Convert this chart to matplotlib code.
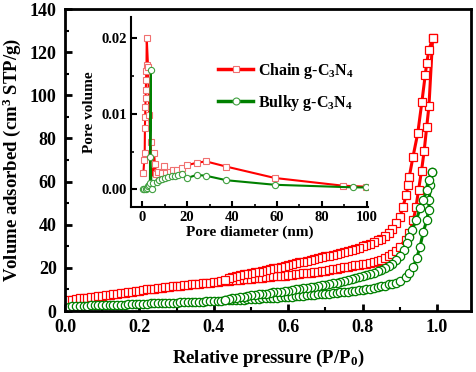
import matplotlib
matplotlib.use("Agg")
import matplotlib.pyplot as plt
from matplotlib.ticker import MultipleLocator

plt.rcParams['font.family'] = ['Liberation Serif', 'DejaVu Serif']
plt.rcParams['font.weight'] = 'bold'
plt.rcParams['mathtext.fontset'] = 'custom'
plt.rcParams['mathtext.rm'] = 'Liberation Serif:bold'
plt.rcParams['mathtext.it'] = 'Liberation Serif:bold'
plt.rcParams['mathtext.bf'] = 'Liberation Serif:bold'

# ---- Isotherm data (relative pressure P/P0, volume adsorbed cm3 STP/g) ----
low_p = [0.01, 0.02, 0.03, 0.04, 0.05, 0.06, 0.07, 0.08, 0.09, 0.10,
         0.11, 0.12, 0.13, 0.14, 0.15, 0.16, 0.17, 0.18, 0.19, 0.20,
         0.21, 0.22, 0.23, 0.24, 0.25, 0.26, 0.27, 0.28, 0.29, 0.30,
         0.31, 0.32, 0.33, 0.34, 0.35, 0.36, 0.37, 0.38, 0.39, 0.40,
         0.41, 0.42, 0.43, 0.44, 0.45, 0.46, 0.47, 0.48, 0.49, 0.50,
         0.51, 0.52, 0.53, 0.54, 0.55, 0.56, 0.57, 0.58, 0.59, 0.60,
         0.61, 0.62, 0.63, 0.64, 0.65, 0.66, 0.67, 0.68, 0.69, 0.70,
         0.71, 0.72, 0.73, 0.74, 0.75, 0.76, 0.77, 0.78, 0.79, 0.80,
         0.81, 0.82, 0.83, 0.84, 0.85, 0.86, 0.87, 0.88, 0.89]
desorb_low_p = [0.89, 0.88, 0.87, 0.86, 0.85, 0.84, 0.83, 0.82, 0.81, 0.80,
                0.79, 0.78, 0.77, 0.76, 0.75, 0.74, 0.73, 0.72, 0.71, 0.70,
                0.69, 0.68, 0.67, 0.66, 0.65, 0.64, 0.63, 0.62, 0.61, 0.60,
                0.59, 0.58, 0.57, 0.56, 0.55, 0.54, 0.53, 0.52, 0.51, 0.50,
                0.49, 0.48, 0.47, 0.46, 0.45, 0.44, 0.43]

chain_ads_low_v = [5.1, 5.3, 5.6, 5.8, 6.0, 6.2, 6.4, 6.7, 6.9, 7.1,
                   7.3, 7.5, 7.8, 8.0, 8.3, 8.5, 8.8, 9.0, 9.3, 9.5,
                   9.8, 10.0, 10.2, 10.4, 10.6, 10.8, 11.0, 11.2, 11.4, 11.6,
                   11.7, 11.9, 12.1, 12.3, 12.4, 12.6, 12.8, 12.9, 13.1, 13.3,
                   13.5, 13.7, 13.9, 14.0, 14.2, 14.4, 14.6, 14.7, 14.9, 15.0,
                   15.2, 15.4, 15.5, 15.7, 15.8, 16.0, 16.1, 16.3, 16.4, 16.6,
                   16.8, 17.0, 17.2, 17.4, 17.6, 17.8, 18.0, 18.2, 18.5, 18.7,
                   19.0, 19.3, 19.6, 19.9, 20.2, 20.5, 20.8, 21.1, 21.4, 21.7,
                   22.0, 22.4, 22.8, 23.3, 23.8, 24.5, 25.4, 26.5, 28.0]
chain_ads_high_p = [0.90, 0.915, 0.925, 0.936, 0.943, 0.95, 0.958, 0.965, 0.972, 0.978, 0.988]
chain_ads_high_v = [29.8, 33.0, 36.0, 42.0, 48.0, 56.0, 65.0, 74.0, 85.4, 95.0, 126.6]
chain_des_high_p = [0.988, 0.978, 0.972, 0.968, 0.959, 0.948, 0.935, 0.925, 0.922, 0.917, 0.908, 0.90]
chain_des_high_v = [126.6, 121.0, 115.0, 109.4, 96.9, 82.5, 71.4, 62.1, 58.4, 53.8, 48.2, 43.6]
chain_des_low_v = [40.6, 38.0, 36.0, 34.6, 33.5, 32.7, 31.9, 31.2, 30.6, 30.0,
                   29.4, 28.9, 28.4, 27.9, 27.4, 27.0, 26.6, 26.1, 25.7, 25.3,
                   24.9, 24.5, 24.1, 23.7, 23.3, 22.9, 22.5, 22.1, 21.7, 21.3,
                   20.9, 20.5, 20.1, 19.8, 19.4, 19.0, 18.7, 18.3, 18.0, 17.6,
                   17.3, 17.0, 16.6, 16.2, 15.7, 15.1, 14.4]

bulky_ads_low_v = [2.0, 2.1, 2.2, 2.3, 2.4, 2.5, 2.6, 2.6, 2.7, 2.7,
                   2.8, 2.8, 2.9, 2.9, 3.0, 3.0, 3.1, 3.1, 3.2, 3.2,
                   3.3, 3.4, 3.5, 3.5, 3.6, 3.7, 3.7, 3.8, 3.9, 3.9,
                   4.0, 4.1, 4.1, 4.2, 4.3, 4.3, 4.4, 4.5, 4.5, 4.6,
                   4.7, 4.8, 4.9, 4.9, 5.0, 5.1, 5.2, 5.3, 5.4, 5.5,
                   5.6, 5.7, 5.8, 5.9, 6.0, 6.1, 6.2, 6.3, 6.4, 6.5,
                   6.7, 6.8, 6.9, 7.1, 7.2, 7.4, 7.5, 7.7, 7.8, 8.0,
                   8.1, 8.3, 8.4, 8.6, 8.8, 9.0, 9.2, 9.4, 9.6, 9.8,
                   10.1, 10.4, 10.7, 11.0, 11.4, 11.8, 12.3, 12.7, 13.2]
bulky_ads_high_p = [0.90, 0.915, 0.925, 0.936, 0.945, 0.954, 0.963, 0.972, 0.977, 0.979, 0.981, 0.986]
bulky_ads_high_v = [13.8, 15.8, 17.5, 20.5, 24.5, 29.8, 36.8, 42.0, 46.8, 51.5, 58.4, 64.6]
bulky_des_high_p = [0.986, 0.979, 0.972, 0.963, 0.954, 0.944, 0.932, 0.925, 0.918, 0.91, 0.90]
bulky_des_high_v = [64.6, 60.7, 56.0, 51.5, 47.6, 42.0, 37.6, 34.5, 31.5, 28.5, 25.5]
bulky_des_low_v = [23.5, 22.0, 20.8, 19.8, 19.1, 18.5, 17.8, 17.2, 16.7, 16.2,
                   15.7, 15.2, 14.8, 14.4, 14.0, 13.6, 13.2, 12.8, 12.5, 12.2,
                   11.9, 11.6, 11.3, 11.0, 10.8, 10.5, 10.3, 10.0, 9.8, 9.5,
                   9.3, 9.0, 8.8, 8.6, 8.4, 8.1, 7.9, 7.7, 7.5, 7.2,
                   7.0, 6.7, 6.5, 6.2, 6.0, 5.6, 5.2]

# ---- Pore size distribution (inset): pore diameter nm, pore volume ----
chain_psd_d = [0.5, 0.9, 1.1, 1.2, 1.3, 1.4, 1.5, 1.6, 1.7, 1.8, 1.9, 2.0, 2.6, 3.1, 3.7, 4.2, 4.7,
               5.3, 5.6, 6.2, 7.1, 8.6, 9.8, 10.8, 12.3, 13.8, 15.6, 17.5, 20.0, 24.2, 28.3, 37.5,
               59.0, 89.3, 99.7]
chain_psd_v = [0.0021, 0.0039, 0.0048, 0.0081, 0.0096, 0.0109, 0.0121, 0.0132, 0.0145, 0.0156, 0.0165,
               0.0200, 0.0162, 0.0098, 0.0063, 0.0034, 0.0013, 0.0048, 0.0034, 0.0020, 0.0023, 0.0021,
               0.0031, 0.0021, 0.0023, 0.0025, 0.0026, 0.0028, 0.0032, 0.0035, 0.0037, 0.0030,
               0.0015, 0.00048, 0.00035]
bulky_psd_d = [0.5, 1.0, 1.5, 2.0, 2.5, 3.0, 3.4, 3.9, 3.6, 4.2, 4.9, 6.4, 7.6, 8.6, 10.1, 11.6, 13.1,
               14.5, 16.0, 17.5, 20.0, 24.2, 28.3, 37.5, 59.0, 93.8, 99.7]
bulky_psd_v = [0.0, 0.0, 0.0001, 0.0002, 0.0004, 0.0006, 0.0009, 0.0158, 0.0043, 0.0001, 0.0008, 0.0010,
               0.0012, 0.0013, 0.0015, 0.0016, 0.0017, 0.0017, 0.0019, 0.0020, 0.0015, 0.0019, 0.0018,
               0.0012, 0.0006, 0.00026, 0.00025]

RED = '#ff0000'
GREEN = '#008000'

chain_ads_p = low_p + chain_ads_high_p
chain_ads_v = chain_ads_low_v + chain_ads_high_v
chain_des_p = chain_des_high_p + desorb_low_p
chain_des_v = chain_des_high_v + chain_des_low_v
bulky_ads_p = low_p + bulky_ads_high_p
bulky_ads_v = bulky_ads_low_v + bulky_ads_high_v
bulky_des_p = bulky_des_high_p + desorb_low_p
bulky_des_v = bulky_des_high_v + bulky_des_low_v

fig = plt.figure(figsize=(4.77, 3.72), dpi=100)
ax = fig.add_axes([65/477, 1-311/372, (471-65)/477, (311-9)/372])

mk = dict(markerfacecolor='white', markeredgewidth=0.9)
ax.plot(chain_ads_p, chain_ads_v, color=RED, lw=2.2, marker='s', ms=5.3, markeredgecolor=RED, **mk)
ax.plot(chain_des_p, chain_des_v, color=RED, lw=2.2, marker='s', ms=5.3, markeredgecolor=RED, **mk)
ax.plot(bulky_ads_p, bulky_ads_v, color=GREEN, lw=2.2, marker='o', ms=6, markeredgecolor=GREEN, **mk)
ax.plot(bulky_des_p, bulky_des_v, color=GREEN, lw=2.2, marker='o', ms=6, markeredgecolor=GREEN, **mk)

ax.set_xlim(0, 1.091)
ax.set_ylim(0, 140)
ax.set_xticks([0.0, 0.2, 0.4, 0.6, 0.8, 1.0])
ax.set_xticklabels(['0.0', '0.2', '0.4', '0.6', '0.8', '1.0'])
ax.xaxis.set_minor_locator(MultipleLocator(0.1))
ax.yaxis.set_major_locator(MultipleLocator(20))
ax.yaxis.set_minor_locator(MultipleLocator(10))
ax.tick_params(which='major', direction='in', length=5, width=2, labelsize=13)
ax.tick_params(which='minor', direction='in', length=3, width=1.5)
ax.tick_params(axis='x', pad=6)
ax.tick_params(axis='y', pad=6)
for s in ax.spines.values():
    s.set_linewidth(2)
ax.set_xlabel('Relative pressure (P/P$_\\mathbf{0}$)', fontsize=13.5, fontweight='bold', labelpad=8)
ax.set_ylabel('Volume adsorbed (cm$^\\mathbf{3}$ STP/g)', fontsize=13.5, fontweight='bold', labelpad=5)

# ---- Inset ----
ins = fig.add_axes([131/477, 1-207/372, (368-131)/477, (207-17)/372])
ins.patch.set_alpha(0)
ins.plot(chain_psd_d, chain_psd_v, color=RED, lw=1.5, marker='s', ms=4.5, markeredgecolor='#f07070',
         markerfacecolor='white', markeredgewidth=0.8, label='Chain g-C$_\\mathbf{3}$N$_\\mathbf{4}$')
ins.plot(bulky_psd_d, bulky_psd_v, color=GREEN, lw=1.5, marker='o', ms=4.5, markeredgecolor='#40a040',
         markerfacecolor='white', markeredgewidth=0.8, label='Bulky g-C$_\\mathbf{3}$N$_\\mathbf{4}$')
ins.set_xlim(-5, 100.5)
ins.set_ylim(-0.00234, 0.0228)
ins.set_xticks([0, 20, 40, 60, 80, 100])
ins.set_yticks([0.0, 0.01, 0.02])
ins.set_yticklabels(['0.00', '0.01', '0.02'])
ins.xaxis.set_minor_locator(MultipleLocator(10))
ins.yaxis.set_minor_locator(MultipleLocator(0.005))
ins.spines['top'].set_visible(False)
ins.spines['right'].set_visible(False)
for s in ['left', 'bottom']:
    ins.spines[s].set_linewidth(1.5)
ins.tick_params(which='major', direction='in', length=4, width=1.5, labelsize=10.5, pad=3)
ins.tick_params(which='minor', direction='in', length=2.5, width=1.2)
ins.set_xlabel('Pore diameter (nm)', fontsize=11, fontweight='bold', labelpad=1)
ins.set_ylabel('Pore volume', fontsize=11, fontweight='bold', labelpad=4)

leg = ins.legend(loc='upper left', bbox_to_anchor=(218/477, 1-61/372), bbox_transform=fig.transFigure,
                 frameon=False, fontsize=11.5, handlelength=2.2, handletextpad=0.3, labelspacing=0.75,
                 borderpad=0, borderaxespad=0)
for h in leg.get_lines():
    h.set_linewidth(2.5)
    h.set_markersize(5)

fig.savefig('out.png', dpi=100)
